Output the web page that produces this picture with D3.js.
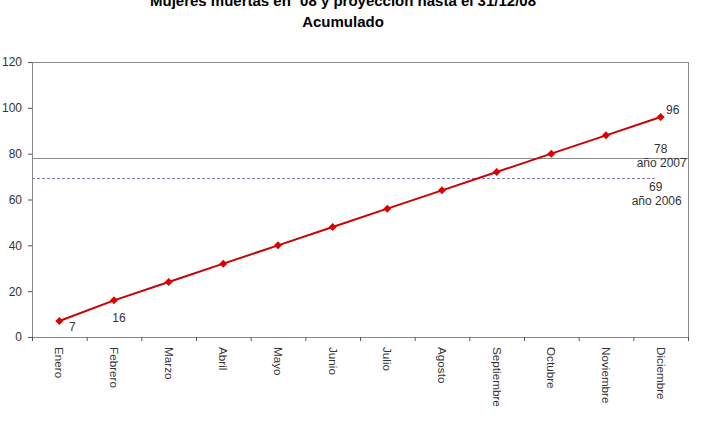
<!DOCTYPE html>
<html>
<head>
<meta charset="utf-8">
<script src="https://cdn.jsdelivr.net/npm/d3@7"></script>
<style>
  html, body { margin: 0; padding: 0; background: #fff; }
  svg { display: block; font-family: "Liberation Sans", Arial, sans-serif; }
</style>
</head>
<body>
<svg id="chart" width="710" height="434"></svg>
<script>
const titleLines = ["Mujeres muertas en \u00b408 y proyecci\u00f3n hasta el 31/12/08", "Acumulado"];
const months = ["Enero","Febrero","Marzo","Abril","Mayo","Junio","Julio","Agosto","Septiembre","Octubre","Noviembre","Diciembre"];
const acumulado = [7, 16, 24, 32, 40, 48, 56, 64, 72, 80, 88, 96];
const labeledIdx = [0, 1, 11];
const ref2007 = 78;
const ref2007Label = "a\u00f1o 2007";
const ref2006 = 69;
const ref2006Label = "a\u00f1o 2006";
const yTicks = [0, 20, 40, 60, 80, 100, 120];

const svg = d3.select("#chart");
const L = 32, R = 688, T = 62, B = 337;

const x = d3.scaleBand().domain(months).range([L, R]).padding(0);
const xb = d3.scaleLinear().domain([0, months.length]).range([L, R]);
const y = d3.scaleLinear().domain([0, 120]).range([B, T]);

// title
svg.append("text").attr("x", 343).attr("y", 6).attr("text-anchor", "middle")
  .attr("font-weight", "bold").attr("font-size", 15).attr("fill", "#000").text(titleLines[0]);
svg.append("text").attr("x", 343).attr("y", 27).attr("text-anchor", "middle")
  .attr("font-weight", "bold").attr("font-size", 15).attr("fill", "#000").text(titleLines[1]);

// plot border (top & right)
svg.append("path")
  .attr("d", `M${L},${y(120)}H${R}V${B}`)
  .attr("fill", "none").attr("stroke", "#8a8a8a").attr("stroke-width", 1)
  .attr("shape-rendering", "crispEdges");

// reference lines
svg.append("line")
  .attr("x1", L).attr("x2", R).attr("y1", y(ref2007)).attr("y2", y(ref2007))
  .attr("stroke", "#8a8a8a").attr("stroke-width", 1).attr("shape-rendering", "crispEdges");
svg.append("line")
  .attr("x1", L).attr("x2", x(months[11]) + x.bandwidth() / 2 - 6).attr("y1", y(ref2006)).attr("y2", y(ref2006))
  .attr("stroke", "#7b7bbd").attr("stroke-width", 1).attr("stroke-dasharray", "3,2")
  .attr("shape-rendering", "crispEdges");

// y axis
const yAxis = svg.append("g").attr("transform", `translate(${L},0)`)
  .call(d3.axisLeft(y).tickValues(yTicks).tickSize(4).tickPadding(6));
yAxis.select(".domain").attr("stroke", "#868686");
yAxis.selectAll(".tick line").attr("stroke", "#555");
yAxis.selectAll("text").attr("font-size", 12).attr("fill", "#333")
  .attr("font-family", "'Liberation Sans', Arial, sans-serif");

// x axis ticks at band boundaries
const xTickAxis = svg.append("g").attr("transform", `translate(0,${B})`)
  .call(d3.axisBottom(xb).tickValues(d3.range(0, months.length + 1)).tickSize(4).tickFormat(""));
xTickAxis.select(".domain").attr("stroke", "#868686");
xTickAxis.selectAll(".tick line").attr("stroke", "#555");

// x labels via band axis
const xAxis = svg.append("g").attr("transform", `translate(0,${B})`)
  .call(d3.axisBottom(x).tickSize(0).tickPadding(0));
xAxis.select(".domain").remove();
xAxis.selectAll("text")
  .attr("font-size", 11.7).attr("fill", "#333")
  .attr("font-family", "'Liberation Sans', Arial, sans-serif")
  .attr("text-anchor", "start")
  .attr("dy", "0.35em")
  .attr("transform", "translate(0,10) rotate(90)")
  .attr("x", 0).attr("y", 0);

// line
const cx = (d, i) => x(months[i]) + x.bandwidth() / 2;
svg.append("path").datum(acumulado)
  .attr("fill", "none").attr("stroke", "#cc0000").attr("stroke-width", 2)
  .attr("d", d3.line().x(cx).y(d => y(d)));

// markers (square diamonds)
svg.selectAll(".mk").data(acumulado).enter().append("path")
  .attr("transform", (d, i) => `translate(${cx(d, i)},${y(d)}) rotate(45)`)
  .attr("d", d3.symbol().type(d3.symbolSquare).size(32))
  .attr("fill", "#dd0000");

// data labels
const lblOff = { 0: [13, 6], 1: [5, 17], 11: [12, -7] };
svg.selectAll(".dl").data(labeledIdx).enter().append("text")
  .attr("x", i => cx(acumulado[i], i) + lblOff[i][0])
  .attr("y", i => y(acumulado[i]) + lblOff[i][1])
  .attr("dy", "0.35em").attr("text-anchor", "middle")
  .attr("font-size", 12).attr("fill", "#333").text(i => acumulado[i]);

// reference labels
const refX = x(months[11]) + x.bandwidth() / 2;
svg.append("text").attr("x", refX).attr("y", y(ref2007) - 9).attr("dy", "0.35em")
  .attr("text-anchor", "middle").attr("font-size", 12).attr("fill", "#333").text(ref2007);
svg.append("text").attr("x", refX + 1).attr("y", y(ref2007) + 5).attr("dy", "0.35em")
  .attr("text-anchor", "middle").attr("font-size", 12).attr("fill", "#333").text(ref2007Label);
svg.append("text").attr("x", refX - 5).attr("y", y(ref2006) + 8).attr("dy", "0.35em")
  .attr("text-anchor", "middle").attr("font-size", 12).attr("fill", "#333").text(ref2006);
svg.append("text").attr("x", refX - 4).attr("y", y(ref2006) + 22).attr("dy", "0.35em")
  .attr("text-anchor", "middle").attr("font-size", 12).attr("fill", "#333").text(ref2006Label);
</script>
</body>
</html>
